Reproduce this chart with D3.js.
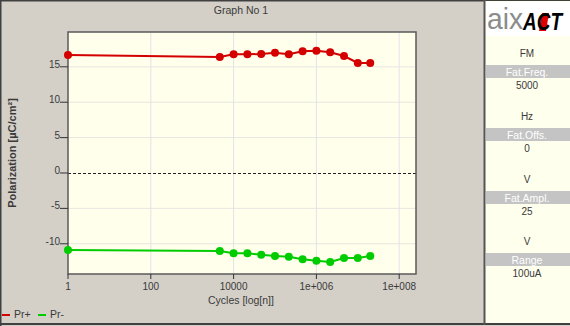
<!DOCTYPE html>
<html><head><meta charset="utf-8">
<script src="https://cdn.jsdelivr.net/npm/d3@7"></script>
<style>body{margin:0;padding:0;background:#D4D0C8;}svg{display:block;font-family:"Liberation Sans",Arial,sans-serif;}</style>
</head><body>
<svg id="c" width="570" height="326"></svg>
<script>
const cycles = [1, 4642, 10000, 21544, 46416, 100000, 215443, 464159, 1000000, 2154435, 4641589, 10000000, 20000000];
const prPlus = [16.67, 16.38, 16.77, 16.77, 16.81, 16.99, 16.77, 17.19, 17.27, 17.05, 16.53, 15.54, 15.54];
const prMinus = [-10.88, -11.02, -11.34, -11.34, -11.54, -11.72, -11.82, -12.19, -12.39, -12.57, -12.0, -12.0, -11.72];
const xTicks = [1, 100, 10000, 1e6, 1e8];
const xTickLabels = ["1", "100", "10000", "1e+006", "1e+008"];
const yTicks = [-10, -5, 0, 5, 10, 15];
const seriesNames = ["Pr+", "Pr-"];
const seriesColors = ["#D40000", "#00CC00"];
const panelItems = [
  {unit: "FM", label: "Fat.Freq.", value: "5000"},
  {unit: "Hz", label: "Fat.Offs.", value: "0"},
  {unit: "V", label: "Fat.Ampl.", value: "25"},
  {unit: "V", label: "Range", value: "100uA"}
];

const svg = d3.select("#c");
const L = 68, R = 416, T = 32, B = 274;
const x = d3.scaleLog().domain([1, Math.pow(10, (R - L) / 41.4)]).range([L, R]);
const y = d3.scaleLinear().domain([-14.27, 19.92]).range([B, T]);
const txt = "#3a3a3a";

svg.append("rect").attr("width", 570).attr("height", 326).attr("fill", "#D4D0C8");
svg.append("line").attr("x1", 0).attr("x2", 570).attr("y1", 0.5).attr("y2", 0.5).attr("stroke", "#404040").attr("stroke-width", 2);
svg.append("line").attr("x1", 0.5).attr("x2", 0.5).attr("y1", 0).attr("y2", 326).attr("stroke", "#404040").attr("stroke-width", 2);
svg.append("line").attr("x1", 0).attr("x2", 570).attr("y1", 324).attr("y2", 324).attr("stroke", "#404040").attr("stroke-width", 2);

svg.append("rect").attr("x", L).attr("y", T).attr("width", R - L).attr("height", B - T).attr("fill", "#FFFFEC");

svg.append("g").selectAll("line").data(yTicks.filter(d => d !== 0)).join("line")
  .attr("x1", L).attr("x2", R).attr("y1", d => y(d)).attr("y2", d => y(d))
  .attr("stroke", "#E6E6E0").attr("stroke-width", 1);
svg.append("g").selectAll("line").data(xTicks.slice(1)).join("line")
  .attr("x1", d => x(d)).attr("x2", d => x(d)).attr("y1", T).attr("y2", B)
  .attr("stroke", "#E2E2EE").attr("stroke-width", 1);
svg.append("line").attr("x1", L).attr("x2", R).attr("y1", Math.round(y(0)) + 0.5).attr("y2", Math.round(y(0)) + 0.5)
  .attr("stroke", "#222").attr("stroke-width", 1).attr("stroke-dasharray", "3,2");

svg.append("rect").attr("x", L).attr("y", T).attr("width", R - L).attr("height", B - T)
  .attr("fill", "none").attr("stroke", "#5a5a5a").attr("stroke-width", 1.5);

const yg = svg.append("g");
yg.selectAll("line").data(yTicks).join("line")
  .attr("x1", L - 8).attr("x2", L).attr("y1", d => y(d)).attr("y2", d => y(d))
  .attr("stroke", "#333").attr("stroke-width", 1);
yg.selectAll("text").data(yTicks).join("text")
  .attr("x", L - 8).attr("y", d => y(d) + 1).attr("text-anchor", "end")
  .attr("font-size", 10).attr("fill", txt).text(d => d);

const xg = svg.append("g");
xg.selectAll("line").data(xTicks).join("line")
  .attr("x1", d => x(d)).attr("x2", d => x(d)).attr("y1", B).attr("y2", B + 5)
  .attr("stroke", "#333").attr("stroke-width", 1);
xg.selectAll("text").data(xTicks).join("text")
  .attr("x", d => x(d)).attr("y", B + 15.5).attr("text-anchor", "middle")
  .attr("font-size", 10).attr("fill", txt).text((d, i) => xTickLabels[i]);

svg.append("text").attr("x", 241).attr("y", 14).attr("text-anchor", "middle")
  .attr("font-size", 10.5).attr("fill", txt).text("Graph No 1");
svg.append("text").attr("x", 241).attr("y", 304).attr("text-anchor", "middle")
  .attr("font-size", 10.5).attr("fill", txt).text("Cycles [log[n]]");
svg.append("text").attr("transform", "translate(16,153) rotate(-90)").attr("text-anchor", "middle")
  .attr("font-size", 11).attr("font-weight", "bold").attr("fill", txt).text("Polarization [µC/cm²]");

const series = [prPlus, prMinus];
series.forEach((vals, si) => {
  const pts = cycles.map((c, i) => [c, vals[i]]);
  svg.append("path").datum(pts)
    .attr("d", d3.line().x(d => x(d[0])).y(d => y(d[1])))
    .attr("fill", "none").attr("stroke", seriesColors[si]).attr("stroke-width", 2);
  svg.append("g").selectAll("circle").data(pts).join("circle")
    .attr("cx", d => x(d[0])).attr("cy", d => y(d[1])).attr("r", 4)
    .attr("fill", seriesColors[si]);
});

const lg = svg.append("g");
seriesNames.forEach((n, i) => {
  const ox = 2 + i * 36;
  lg.append("line").attr("x1", ox).attr("x2", ox + 8).attr("y1", 315).attr("y2", 315)
    .attr("stroke", seriesColors[i]).attr("stroke-width", 2);
  lg.append("text").attr("x", ox + 12).attr("y", 318).attr("font-size", 10.5).attr("fill", txt).text(n);
});

const PX = 485;
svg.append("rect").attr("x", PX).attr("y", 1).attr("width", 570 - PX).attr("height", 322).attr("fill", "#FFFFEE");
svg.append("line").attr("x1", PX - 0.5).attr("x2", PX - 0.5).attr("y1", 0).attr("y2", 325)
  .attr("stroke", "#555").attr("stroke-width", 2);
svg.append("rect").attr("x", PX + 1).attr("y", 2).attr("width", 84).attr("height", 34).attr("fill", "#FFFFFF");
svg.append("text").attr("x", 487).attr("y", 29).attr("font-size", 30).attr("fill", "#8C8C8C")
  .attr("textLength", 36).attr("lengthAdjust", "spacingAndGlyphs").text("aix");
svg.append("path").attr("d", "M542,13 L549,13 L546,31 L539,31 Z").attr("fill", "#E00000");
svg.append("text").attr("x", 523).attr("y", 30).attr("font-size", 23).attr("font-weight", "bold")
  .attr("font-style", "italic").attr("fill", "#000")
  .attr("textLength", 39).attr("lengthAdjust", "spacingAndGlyphs").text("ACT");

const cx = 527;
panelItems.forEach((it, i) => {
  const oy = [53, 116, 179, 241][i];
  svg.append("text").attr("x", cx).attr("y", oy + 4).attr("text-anchor", "middle")
    .attr("font-size", 10).attr("fill", txt).text(it.unit);
  svg.append("rect").attr("x", PX + 1).attr("y", oy + 12).attr("width", 570 - PX).attr("height", 13).attr("fill", "#C4C4C4");
  svg.append("text").attr("x", cx).attr("y", oy + 22.5).attr("text-anchor", "middle")
    .attr("font-size", 10.5).attr("fill", "#FFFFFF").text(it.label);
  svg.append("text").attr("x", cx).attr("y", oy + 36).attr("text-anchor", "middle")
    .attr("font-size", 10).attr("fill", txt).text(it.value);
});
</script>
</body></html>
